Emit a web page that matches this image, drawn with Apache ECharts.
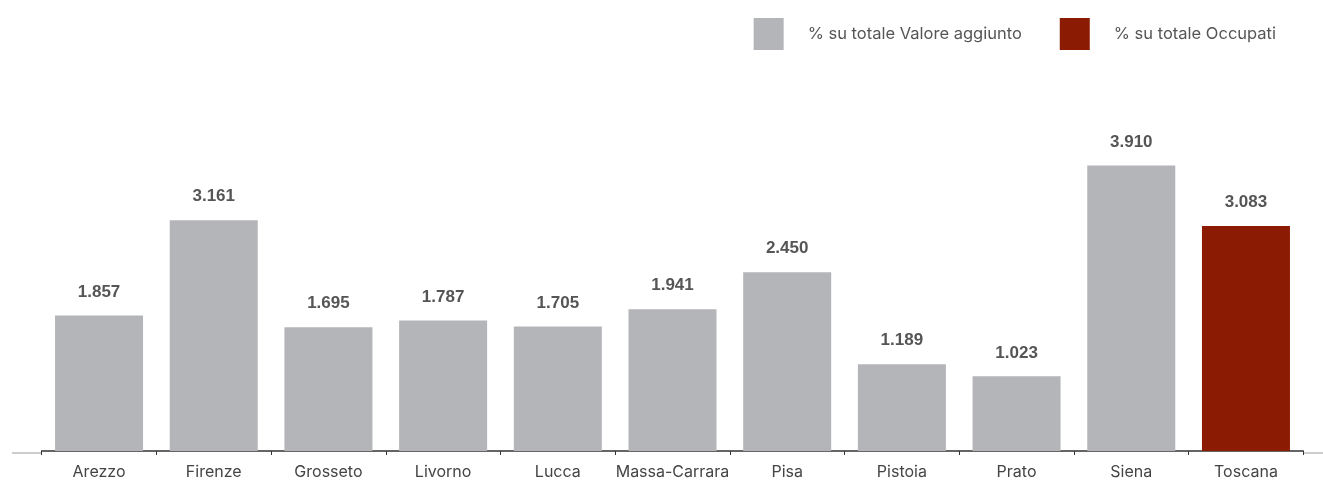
<!DOCTYPE html>
<html>
<head>
<meta charset="utf-8">
<script src="https://cdn.jsdelivr.net/npm/echarts@6/dist/echarts.min.js"></script>
<style>html,body{margin:0;padding:0;background:#fff}#c{width:1323px;height:480px}</style>
</head>
<body>
<div id="c"></div>
<script>
const categories = ['Arezzo','Firenze','Grosseto','Livorno','Lucca','Massa-Carrara','Pisa','Pistoia','Prato','Siena','Toscana'];
const valoreAggiunto = [1.857, 3.161, 1.695, 1.787, 1.705, 1.941, 2.450, 1.189, 1.023, 3.910, null];
const occupati = [null, null, null, null, null, null, null, null, null, null, 3.083];
const seriesNames = ['% su totale Valore aggiunto', '% su totale Occupati'];

const chart = echarts.init(document.getElementById('c'), null, {renderer: 'canvas'});
const labelCfg = {
  show: true, position: 'top', distance: 15,
  fontFamily: 'Liberation Sans, Arial, sans-serif', fontWeight: 'bold', fontSize: 17, color: '#555',
  formatter: p => p.value == null ? '' : Number(p.value).toFixed(3)
};
chart.setOption({
  animation: false,
  legend: {
    right: 47, top: 18, padding: 0, itemWidth: 30, itemHeight: 32, itemGap: 38,
    icon: 'rect',
    textStyle: {fontFamily: 'Inter, sans-serif', fontSize: 16.5, color: '#555', padding: [0,0,0,19]},
    data: seriesNames
  },
  grid: {left: 41.7, right: 19.7, top: 86, bottom: 27},
  graphic: [
    {type: 'line', shape: {x1: 12, y1: 453, x2: 41.7, y2: 453}, style: {stroke: '#999', lineWidth: 1}},
    {type: 'line', shape: {x1: 1303.3, y1: 453, x2: 1323, y2: 453}, style: {stroke: '#999', lineWidth: 1}}
  ],
  xAxis: {
    type: 'category', data: categories, boundaryGap: true,
    axisLine: {lineStyle: {color: '#333', width: 1.5}},
    axisTick: {show: true, length: 4, lineStyle: {color: '#333'}},
    axisLabel: {interval: 0, margin: 13, fontFamily: 'Inter, sans-serif', fontSize: 16, color: '#444'}
  },
  yAxis: {type: 'value', min: 0, max: 5, show: false, splitLine: {show: false}},
  series: [
    {name: seriesNames[0], type: 'bar', stack: 'tot', barWidth: 88, data: valoreAggiunto,
     itemStyle: {color: '#b4b5b9'}, label: labelCfg},
    {name: seriesNames[1], type: 'bar', stack: 'tot', barWidth: 88, data: occupati,
     itemStyle: {color: '#8b1c03'}, label: labelCfg}
  ]
});
</script>
</body>
</html>
